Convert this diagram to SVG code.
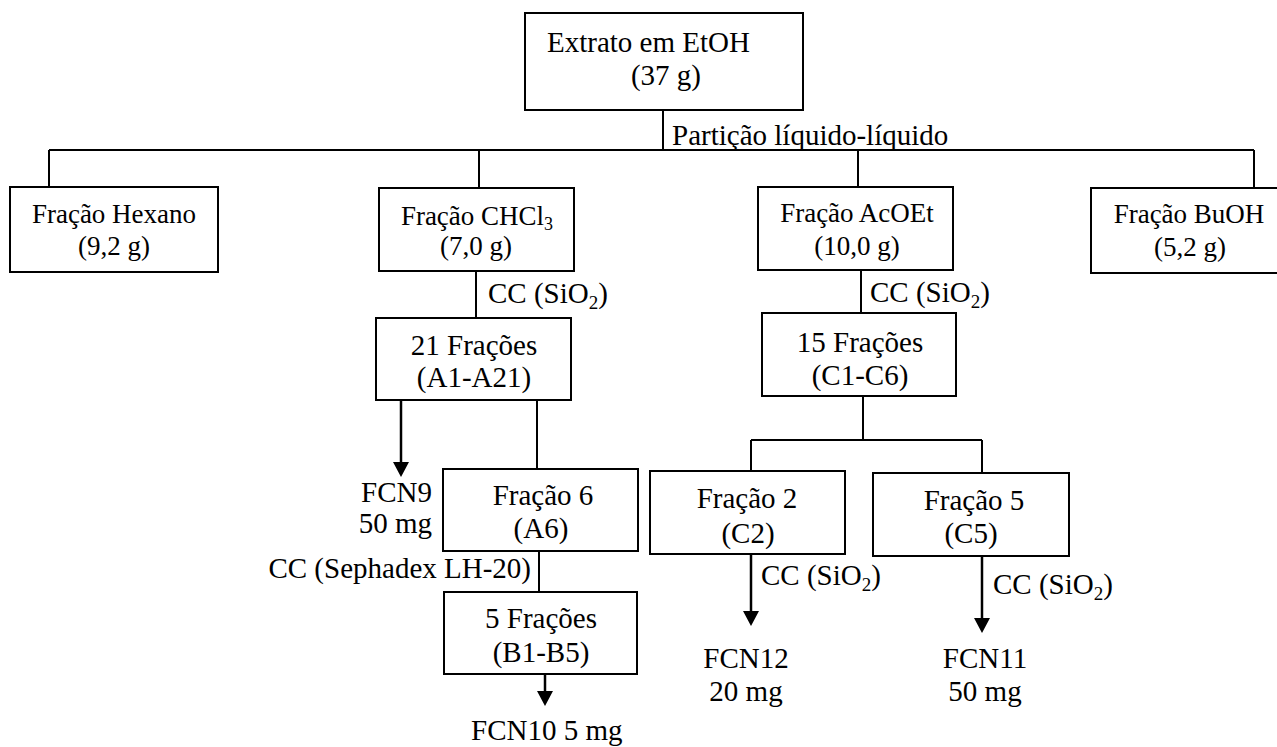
<svg xmlns="http://www.w3.org/2000/svg" width="1277" height="747" viewBox="0 0 1277 747">
<style>
  .box { fill: #fff; stroke: #000; stroke-width: 2; }
  .ln { fill: none; stroke: #000; stroke-width: 2; }
  .ar { fill: none; stroke: #000; stroke-width: 2.5; marker-end: url(#ah); }
  text { font-family: "Liberation Serif", "Times New Roman", serif; font-size: 29px; fill: #000; }
  .s27 { font-size: 27px; }
  .m { text-anchor: middle; }
  .e { text-anchor: end; }
</style>
<defs>
  <marker id="ah" viewBox="0 0 15 16" markerWidth="15" markerHeight="16" refX="9" refY="8" orient="auto" markerUnits="userSpaceOnUse">
    <path d="M0 0 L15 8 L0 16 Z" fill="#000"/>
  </marker>
</defs>
<rect width="1277" height="747" fill="#fff"/>

<g id="connectors">
  <path class="ln" d="M663 110 V150"/>
  <path class="ln" d="M49 150 H1254"/>
  <path class="ln" d="M49 150 V187"/>
  <path class="ln" d="M479 150 V188"/>
  <path class="ln" d="M858 150 V187"/>
  <path class="ln" d="M1254 150 V188"/>
  <path class="ln" d="M476 271 V318"/>
  <path class="ln" d="M861 270 V313"/>
  <path class="ar" d="M401 400 V471"/>
  <path class="ln" d="M537 400 V469"/>
  <path class="ln" d="M539 551 V592"/>
  <path class="ar" d="M545 674 V700"/>
  <path class="ln" d="M863 396 V440"/>
  <path class="ln" d="M751 440 H982"/>
  <path class="ln" d="M751 440 V471"/>
  <path class="ln" d="M982 440 V473"/>
  <path class="ar" d="M751 554 V620"/>
  <path class="ar" d="M982 556 V627"/>
  <text x="672" y="145">Partição líquido-líquido</text>
  <text x="488" y="303">CC (SiO<tspan font-size="19" dy="6">2</tspan><tspan dy="-6">)</tspan></text>
  <text x="870" y="302">CC (SiO<tspan font-size="19" dy="6">2</tspan><tspan dy="-6">)</tspan></text>
  <text x="761" y="585">CC (SiO<tspan font-size="19" dy="6">2</tspan><tspan dy="-6">)</tspan></text>
  <text x="993" y="594">CC (SiO<tspan font-size="19" dy="6">2</tspan><tspan dy="-6">)</tspan></text>
  <text class="e" x="531" y="578">CC (Sephadex LH-20)</text>
</g>

<g id="extrato">
  <rect class="box" x="525" y="13" width="278" height="97"/>
  <text x="547" y="52">Extrato em EtOH</text>
  <text class="m" x="666" y="85">(37 g)</text>
</g>

<g id="hexano">
  <rect class="box" x="10" y="187" width="208" height="85"/>
  <text class="m s27" x="114" y="223">Fração Hexano</text>
  <text class="m s27" x="114" y="255">(9,2 g)</text>
</g>

<g id="chcl3">
  <rect class="box" x="379" y="188" width="195" height="83"/>
  <text class="m s27" x="477" y="225">Fração CHCl<tspan font-size="18" dy="5">3</tspan></text>
  <text class="m s27" x="476" y="255">(7,0 g)</text>
</g>

<g id="acoet">
  <rect class="box" x="758" y="187" width="195" height="83"/>
  <text class="m s27" x="857" y="222">Fração AcOEt</text>
  <text class="m s27" x="857" y="255">(10,0 g)</text>
</g>

<g id="buoh">
  <rect class="box" x="1091" y="188" width="200" height="85"/>
  <text class="m s27" x="1189" y="223">Fração BuOH</text>
  <text class="m s27" x="1190" y="256">(5,2 g)</text>
</g>

<g id="f21">
  <rect class="box" x="376" y="318" width="195" height="82"/>
  <text class="m" x="474" y="355">21 Frações</text>
  <text class="m" x="474" y="387">(A1-A21)</text>
</g>

<g id="fcn9">
  <text class="e" x="432" y="502">FCN9</text>
  <text class="e" x="432" y="533">50 mg</text>
</g>

<g id="f6">
  <rect class="box" x="443" y="469" width="195" height="82"/>
  <text class="m" x="543" y="505">Fração 6</text>
  <text class="m" x="541" y="538">(A6)</text>
</g>

<g id="f5b">
  <rect class="box" x="444" y="592" width="193" height="82"/>
  <text class="m" x="541" y="628">5 Frações</text>
  <text class="m" x="541" y="662">(B1-B5)</text>
</g>

<g id="fcn10">
  <text x="471" y="740">FCN10 5 mg</text>
</g>

<g id="f15">
  <rect class="box" x="762" y="313" width="194" height="83"/>
  <text class="m" x="860" y="352">15 Frações</text>
  <text class="m" x="860" y="385">(C1-C6)</text>
</g>

<g id="f2">
  <rect class="box" x="650" y="471" width="195" height="83"/>
  <text class="m" x="747" y="508">Fração 2</text>
  <text class="m" x="748" y="543">(C2)</text>
</g>

<g id="f5">
  <rect class="box" x="873" y="473" width="196" height="83"/>
  <text class="m" x="974" y="510">Fração 5</text>
  <text class="m" x="971" y="543">(C5)</text>
</g>

<g id="fcn12">
  <text class="m" x="746" y="668">FCN12</text>
  <text class="m" x="746" y="701">20 mg</text>
</g>

<g id="fcn11">
  <text class="m" x="985" y="668">FCN11</text>
  <text class="m" x="985" y="701">50 mg</text>
</g>
</svg>
